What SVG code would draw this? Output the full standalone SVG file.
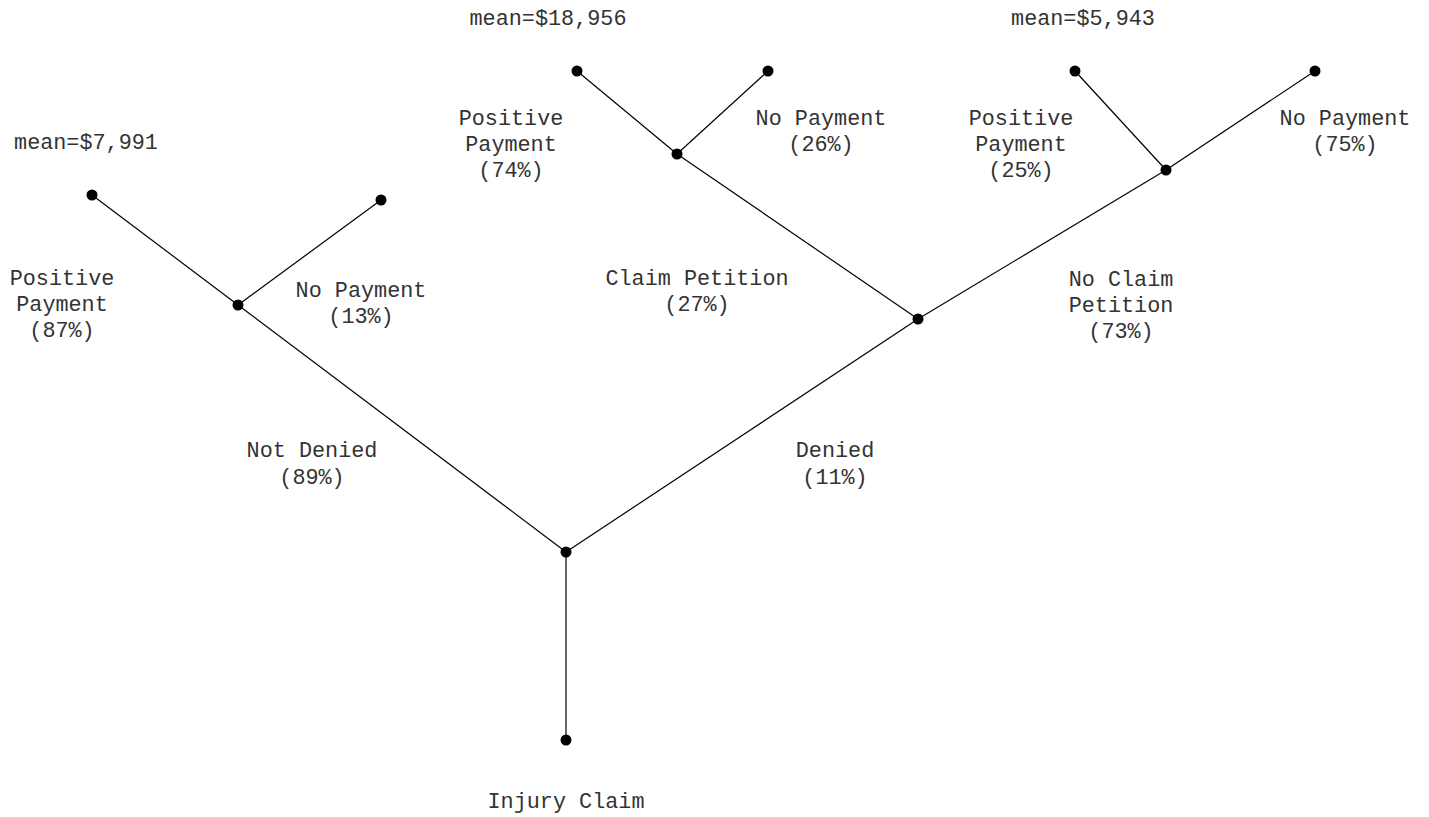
<svg xmlns="http://www.w3.org/2000/svg" width="1429" height="817" viewBox="0 0 1429 817">
<style>
.e{stroke:#000;stroke-width:1.2;fill:none}
.n{fill:#000}
text{font-family:"Liberation Mono","Courier New",monospace;font-size:21.8px;fill:#333;text-anchor:middle}
</style>
<rect width="1429" height="817" fill="#fff"/>
<g id="connectors">
<line class="e" x1="566" y1="740" x2="566" y2="552"/>
<line class="e" x1="566" y1="552" x2="238" y2="305"/>
<line class="e" x1="566" y1="552" x2="918" y2="319"/>
<line class="e" x1="238" y1="305" x2="92" y2="195"/>
<line class="e" x1="238" y1="305" x2="381" y2="200"/>
<line class="e" x1="918" y1="319" x2="677" y2="154"/>
<line class="e" x1="918" y1="319" x2="1166" y2="170"/>
<line class="e" x1="677" y1="154" x2="577" y2="71"/>
<line class="e" x1="677" y1="154" x2="768" y2="71"/>
<line class="e" x1="1166" y1="170" x2="1075" y2="71"/>
<line class="e" x1="1166" y1="170" x2="1315" y2="71"/>
</g>
<g id="injury-claim"><circle class="n" cx="566" cy="740" r="5.5"/><text x="566" y="808">Injury Claim</text></g>
<g id="root-split"><circle class="n" cx="566" cy="552" r="5.5"/></g>
<g id="not-denied"><circle class="n" cx="238" cy="305" r="5.5"/><text x="312" y="457">Not Denied<tspan x="312" dy="27">(89%)</tspan></text></g>
<g id="nd-positive"><circle class="n" cx="92" cy="195" r="5.5"/><text x="86" y="149">mean=$7,991</text><text x="62" y="285">Positive<tspan x="62" dy="26">Payment</tspan><tspan x="62" dy="26">(87%)</tspan></text></g>
<g id="nd-nopay"><circle class="n" cx="381" cy="200" r="5.5"/><text x="361" y="297">No Payment<tspan x="361" dy="26">(13%)</tspan></text></g>
<g id="denied"><circle class="n" cx="918" cy="319" r="5.5"/><text x="835" y="457">Denied<tspan x="835" dy="27">(11%)</tspan></text></g>
<g id="claim-petition"><circle class="n" cx="677" cy="154" r="5.5"/><text x="697" y="285">Claim Petition<tspan x="697" dy="26">(27%)</tspan></text></g>
<g id="cp-positive"><circle class="n" cx="577" cy="71" r="5.5"/><text x="548" y="25">mean=$18,956</text><text x="511" y="125">Positive<tspan x="511" dy="26">Payment</tspan><tspan x="511" dy="26">(74%)</tspan></text></g>
<g id="cp-nopay"><circle class="n" cx="768" cy="71" r="5.5"/><text x="821" y="125">No Payment<tspan x="821" dy="26">(26%)</tspan></text></g>
<g id="no-claim-petition"><circle class="n" cx="1166" cy="170" r="5.5"/><text x="1121" y="286">No Claim<tspan x="1121" dy="26">Petition</tspan><tspan x="1121" dy="26">(73%)</tspan></text></g>
<g id="ncp-positive"><circle class="n" cx="1075" cy="71" r="5.5"/><text x="1083" y="25">mean=$5,943</text><text x="1021" y="125">Positive<tspan x="1021" dy="26">Payment</tspan><tspan x="1021" dy="26">(25%)</tspan></text></g>
<g id="ncp-nopay"><circle class="n" cx="1315" cy="71" r="5.5"/><text x="1345" y="125">No Payment<tspan x="1345" dy="26">(75%)</tspan></text></g>
</svg>
